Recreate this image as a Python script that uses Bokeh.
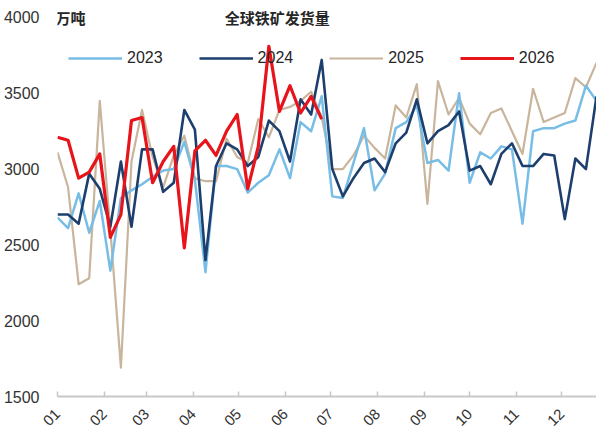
import math
from bokeh.plotting import figure
from bokeh.models import ColumnDataSource, Legend, LegendItem, Label, FixedTicker, Range1d
from bokeh.embed import file_html
from bokeh.resources import INLINE

# ---- data (weekly, 万吨) ----
weeks = list(range(52))
y2023 = [2680, 2610, 2840, 2580, 2790, 2330, 2810, 2860, 2900, 2950, 2990, 3000, 3180, 2930,
         2320, 3020, 3020, 3000, 2845, 2910, 2960, 3130, 2940, 3310, 3250, 3480, 2820, 2810,
         3040, 3270, 2860, 2970, 3270, 3310, 3420, 3040, 3060, 2990, 3500, 2910, 3110, 3070,
         3150, 3130, 2640, 3250, 3270, 3270, 3300, 3320, 3550, 3450]
y2024 = [2700, 2700, 2640, 2970, 2870, 2620, 3050, 2620, 3130, 3130, 2850, 2910, 3390, 3260,
         2400, 3020, 3170, 3130, 3020, 3080, 3320, 3250, 3050, 3460, 3360, 3720, 3000, 2820,
         2940, 3040, 3070, 2980, 3170, 3240, 3460, 3170, 3250, 3290, 3380, 2990, 3020, 2900,
         3100, 3170, 3020, 3020, 3100, 3090, 2670, 3070, 3000, 3480]
y2025 = [3110, 2880, 2240, 2280, 3450, 2600, 1690, 3050, 3390, 3080, 2880, 3090, 3220, 2940,
         2920, 2920, 3200, 3080, 3040, 3330, 3210, 3390, 3410, 3450, 3510, 3340, 3000, 3000,
         3090, 3220, 3140, 3070, 3420, 3340, 3560, 2770, 3580, 3360, 3470, 3300, 3230, 3370,
         3400, 3250, 3100, 3530, 3310, 3340, 3370, 3600, 3540, 3700]
y2026 = [3210, 3190, 2940, 2980, 3100, 2550, 2700, 3320, 3340, 2910, 3050, 3150, 2480, 3120,
         3190, 3090, 3250, 3360, 2870, 3150, 3810, 3380, 3550, 3370, 3480, 3330]

series_names = ["2023", "2024", "2025", "2026"]
month_labels = ["01", "02", "03", "04", "05", "06", "07", "08", "09", "10", "11", "12"]
month_start_day = [0, 31, 59, 90, 120, 151, 181, 212, 243, 273, 304, 334]
y_ticks = [1500, 2000, 2500, 3000, 3500, 4000]
title_text = "全球铁矿发货量"
unit_text = "万吨"

colors = {"2023": "#78BDE6", "2024": "#1D3F6E", "2025": "#C8B59C", "2026": "#E8141B"}
widths = {"2023": 2.5, "2024": 2.6, "2025": 2.2, "2026": 3.2}

FONT = "Liberation Sans"
CJK = "Noto Sans CJK SC"

p = figure(width=596, height=437, x_range=Range1d(0, 51), y_range=Range1d(1500, 4112),
           output_backend="svg", toolbar_location=None,
           min_border_left=57, min_border_right=0, min_border_top=0, min_border_bottom=41)
p.outline_line_color = None
p.background_fill_color = "white"
p.border_fill_color = "white"
p.xgrid.visible = False
p.ygrid.visible = False

data = {"2023": y2023, "2024": y2024, "2025": y2025, "2026": y2026}
renderers = {}
for name in ["2025", "2023", "2024", "2026"]:
    ys = data[name]
    src = ColumnDataSource(dict(x=weeks[:len(ys)], y=ys))
    renderers[name] = p.line("x", "y", source=src, line_color=colors[name],
                             line_width=widths[name], line_join="round")

legend = Legend(items=[LegendItem(label=n, renderers=[renderers[n]]) for n in series_names],
                orientation="horizontal", location=(11, 328),
                glyph_width=54, glyph_height=20, label_standoff=5, spacing=36,
                padding=0, margin=0, border_line_color=None, background_fill_alpha=0,
                label_text_font=FONT, label_text_font_size="16px", label_text_color="#262626")
p.add_layout(legend, "center")

# axes
p.xaxis.ticker = FixedTicker(ticks=[d / 7 for d in month_start_day])
p.xaxis.major_label_overrides = {d / 7: lab for d, lab in zip(month_start_day, month_labels)}
p.xaxis.major_label_orientation = math.pi / 4
p.xaxis.axis_line_color = "#C8C8C8"
p.xaxis.axis_line_width = 2
p.xaxis.major_tick_line_color = "#C8C8C8"
p.xaxis.major_tick_line_width = 1.5
p.xaxis.major_tick_in = 5
p.xaxis.major_tick_out = 0
p.xaxis.minor_tick_line_color = None
p.xaxis.major_label_text_font = FONT
p.xaxis.major_label_text_font_size = "15px"
p.xaxis.major_label_text_color = "#333333"
p.xaxis.major_label_standoff = 15

p.yaxis.ticker = FixedTicker(ticks=y_ticks)
p.yaxis.axis_line_color = None
p.yaxis.major_tick_line_color = None
p.yaxis.minor_tick_line_color = None
p.yaxis.major_label_text_font = FONT
p.yaxis.major_label_text_font_size = "16px"
p.yaxis.major_label_text_color = "#333333"
p.yaxis.major_label_standoff = 12

p.add_layout(Label(x=20.8, y=4000, text=title_text, text_font=CJK, text_font_size="15px",
                   text_font_style="bold", text_align="center", text_baseline="middle",
                   text_color="#262626"))
p.add_layout(Label(x=0, y=4000, text=unit_text, text_font=CJK, text_font_size="15px",
                   text_font_style="bold", text_align="left", text_baseline="middle",
                   text_color="#262626", x_offset=-2))

open("out.html", "w").write(file_html(p, INLINE))
